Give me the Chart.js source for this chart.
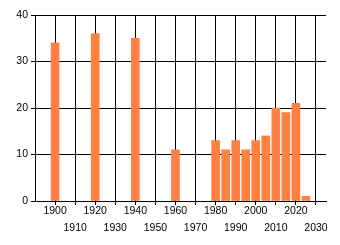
<!DOCTYPE html>
<html>
<head>
<meta charset="utf-8">
<script src="https://cdn.jsdelivr.net/npm/chart.js@4/dist/chart.umd.min.js"></script>
<style>
  html, body { margin: 0; padding: 0; background: #fff; }
  #wrap { width: 340px; height: 245px; }
</style>
</head>
<body>
<div id="wrap"><canvas id="chart"></canvas></div>
<script>
// values
const years = [1900, 1920, 1940, 1960, 1980, 1985, 1990, 1995, 2000, 2005, 2010, 2015, 2020, 2025];
const counts = [34, 36, 35, 11, 13, 11, 13, 11, 13, 14, 20, 19, 21, 1];
const tickYears = [1900, 1910, 1920, 1930, 1940, 1950, 1960, 1970, 1980, 1990, 2000, 2010, 2020, 2030];

const points = [];
for (let i = 0; i < years.length; i++) {
    points.push({ x: years[i], y: counts[i] });
}

const font = { family: 'Liberation Sans', size: 10.5, lineHeight: 1.57 };

const chart = new Chart(document.getElementById('chart'), {
    type: 'bar',
    data: {
        datasets: [{
            data: points,
            backgroundColor: 'rgb(255,128,64)',
            barThickness: 8
        }]
    },
    options: {
        responsive: true,
        maintainAspectRatio: false,
        animation: false,
        layout: { padding: { top: 15, right: 14, left: 0, bottom: 0 } },
        plugins: { legend: { display: false }, tooltip: { enabled: false } },
        scales: {
            x: {
                type: 'linear',
                offset: false,
                min: 1890,
                max: 2035,
                afterBuildTicks: function (scale) {
                    scale.ticks = tickYears.map(v => ({ value: v }));
                },
                afterFit: function (scale) { scale.height = 44; },
                grid: { color: '#000', tickLength: 4, offset: false },
                border: { color: '#000' },
                ticks: {
                    autoSkip: false,
                    maxRotation: 0,
                    padding: -2,
                    color: '#000',
                    font: font,
                    callback: function (value) {
                        if ((value / 10) % 2 === 0) return String(value);
                        return ['', String(value)];
                    }
                }
            },
            y: {
                min: 0,
                max: 40,
                afterFit: function (scale) { scale.width = 35; },
                grid: { color: '#000', tickLength: 4 },
                border: { color: '#000' },
                ticks: { stepSize: 10, padding: 3, color: '#000', font: font }
            }
        }
    }
});
</script>
</body>
</html>
